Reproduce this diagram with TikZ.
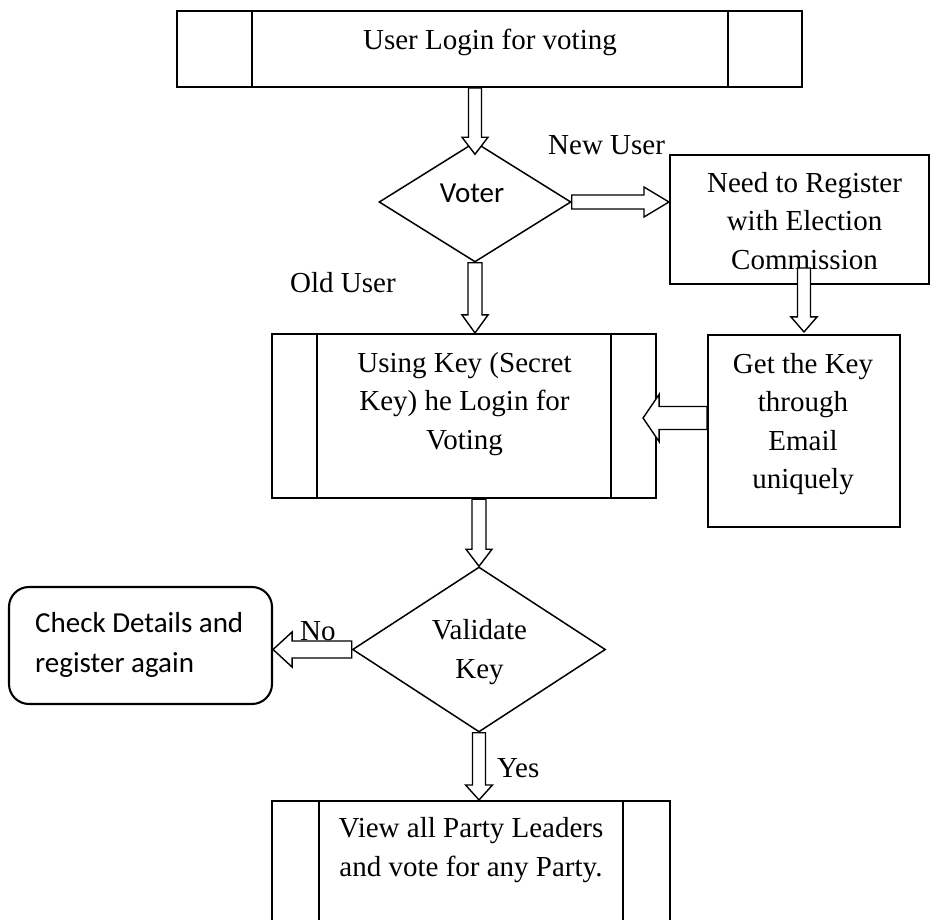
\documentclass[tikz,border=0pt]{standalone}
\usepackage{fontspec}
\setmainfont{Liberation Serif}
\newfontfamily\calib{Carlito}
\usetikzlibrary{shapes.geometric,calc}
\tikzset{
 box/.style={draw, line width=2.1pt, inner sep=0pt},
 dia/.style={draw, diamond, line width=1.5pt, inner sep=0pt},
 barrow/.style={draw, line width=1.4pt, fill=white, line join=miter},
 serif/.style={font=\fontsize{29}{38.3}\selectfont, align=center, inner sep=0pt},
 sans/.style={font=\calib\fontsize{29}{40}\selectfont, align=left, inner sep=0pt},
 bar/.style={line width=1.5pt},
}
\newcommand\blockarrow[5]{%
  \coordinate (bab) at ($(#2)!#5!(#1)$);
  \draw[barrow] ($(#1)!#3!90:(#2)$) -- ($(bab)!#3!90:(#2)$) -- ($(bab)!#4!90:(#2)$) -- (#2)
    -- ($(bab)!#4!-90:(#2)$) -- ($(bab)!#3!-90:(#2)$) -- ($(#1)!#3!-90:(#2)$) -- cycle;
}
\begin{document}
\begin{tikzpicture}[x=1pt,y=-1pt]
\useasboundingbox (0,0) rectangle (930,920);
% boxes
\node[box, minimum width=625pt, minimum height=76pt] (login) at (489.5,49) {};
\draw[bar] ([xshift=76pt]login.north west) -- ([xshift=76pt]login.south west);
\draw[bar] ([xshift=-75pt]login.north east) -- ([xshift=-75pt]login.south east);
\node[serif, anchor=base] (logintxt) at (490,50) {User Login for voting};

\node[dia, minimum width=192pt, minimum height=120pt] (voter) at (475,202) {};
\node[sans, anchor=base] (votertxt) at (472,203) {Voter};

\node[box, minimum width=259pt, minimum height=129pt] (reg) at (799.5,219.5) {};
\node[serif] (regtxt) at (804.5,221) {Need to Register\\with Election\\Commission};

\node[box, minimum width=192pt, minimum height=192pt] (getkey) at (804,431) {};
\node[serif] (getkeytxt) at (803,424) {Get the Key\\through\\Email\\uniquely};

\node[box, minimum width=384pt, minimum height=164pt] (key) at (464,416) {};
\draw[bar] ([xshift=46pt]key.north west) -- ([xshift=46pt]key.south west);
\draw[bar] ([xshift=-46pt]key.north east) -- ([xshift=-46pt]key.south east);
\node[serif] (keytxt) at (464.5,404) {Using Key (Secret\\Key) he Login for\\Voting};

\node[dia, minimum width=253pt, minimum height=165pt] (val) at (479,649.5) {};
\node[serif] (valtxt) at (479.5,652) {Validate\\Key};

\node[box, rounded corners=20pt, minimum width=263pt, minimum height=117pt] (check) at (140.5,645.5) {};
\node[sans, anchor=west] (checktxt) at (35,645) {Check Details and\\register again};

\node[box, minimum width=398pt, minimum height=124pt] (view) at (471,863) {};
\draw[bar] ([xshift=48pt]view.north west) -- ([xshift=48pt]view.south west);
\draw[bar] ([xshift=-48pt]view.north east) -- ([xshift=-48pt]view.south east);
\node[serif] (viewtxt) at (471,850) {View all Party Leaders\\and vote for any Party.};

% labels
\node[serif, anchor=base west] (newuser) at (548,155) {New User};
\node[serif, anchor=base west] (olduser) at (290,293) {Old User};
\node[serif, anchor=base west] (no) at (300,640) {No};
\node[serif, anchor=base west] (yes) at (497,777) {Yes};

% connector end points
\coordinate (a1s) at (login.south -| voter.north);
\coordinate (a1e) at ([yshift=-13pt]voter.north);
\coordinate (a2s) at (voter.east);
\coordinate (a2e) at (voter.east -| reg.west);
\coordinate (a3s) at (voter.south);
\coordinate (a3e) at (voter.south |- key.north);
\coordinate (a4s) at ([yshift=17pt]reg.south -| getkey.north);
\coordinate (a4e) at ([yshift=2pt]getkey.north);
\coordinate (a5s) at ([yshift=13pt]getkey.west);
\coordinate (a5e) at ([xshift=-14pt]key.east |- a5s);
\coordinate (a6s) at (key.south -| val.north);
\coordinate (a6e) at (val.north);
\coordinate (a7s) at (val.west);
\coordinate (a7e) at (check.east |- val.west);
\coordinate (a8s) at (val.south);
\coordinate (a8e) at (val.south |- view.north);

% block arrows
\blockarrow{a1s}{a1e}{6.5pt}{13pt}{17pt}
\blockarrow{a2s}{a2e}{7pt}{15pt}{25pt}
\blockarrow{a3s}{a3e}{7pt}{13pt}{18pt}
\blockarrow{a4s}{a4e}{6.5pt}{13pt}{15pt}
\blockarrow{a5s}{a5e}{11.5pt}{23.5pt}{16pt}
\blockarrow{a6s}{a6e}{7pt}{13pt}{17pt}
\blockarrow{a7s}{a7e}{8.5pt}{17.5pt}{19pt}
\blockarrow{a8s}{a8e}{6.5pt}{13.5pt}{15pt}
\end{tikzpicture}
\end{document}
